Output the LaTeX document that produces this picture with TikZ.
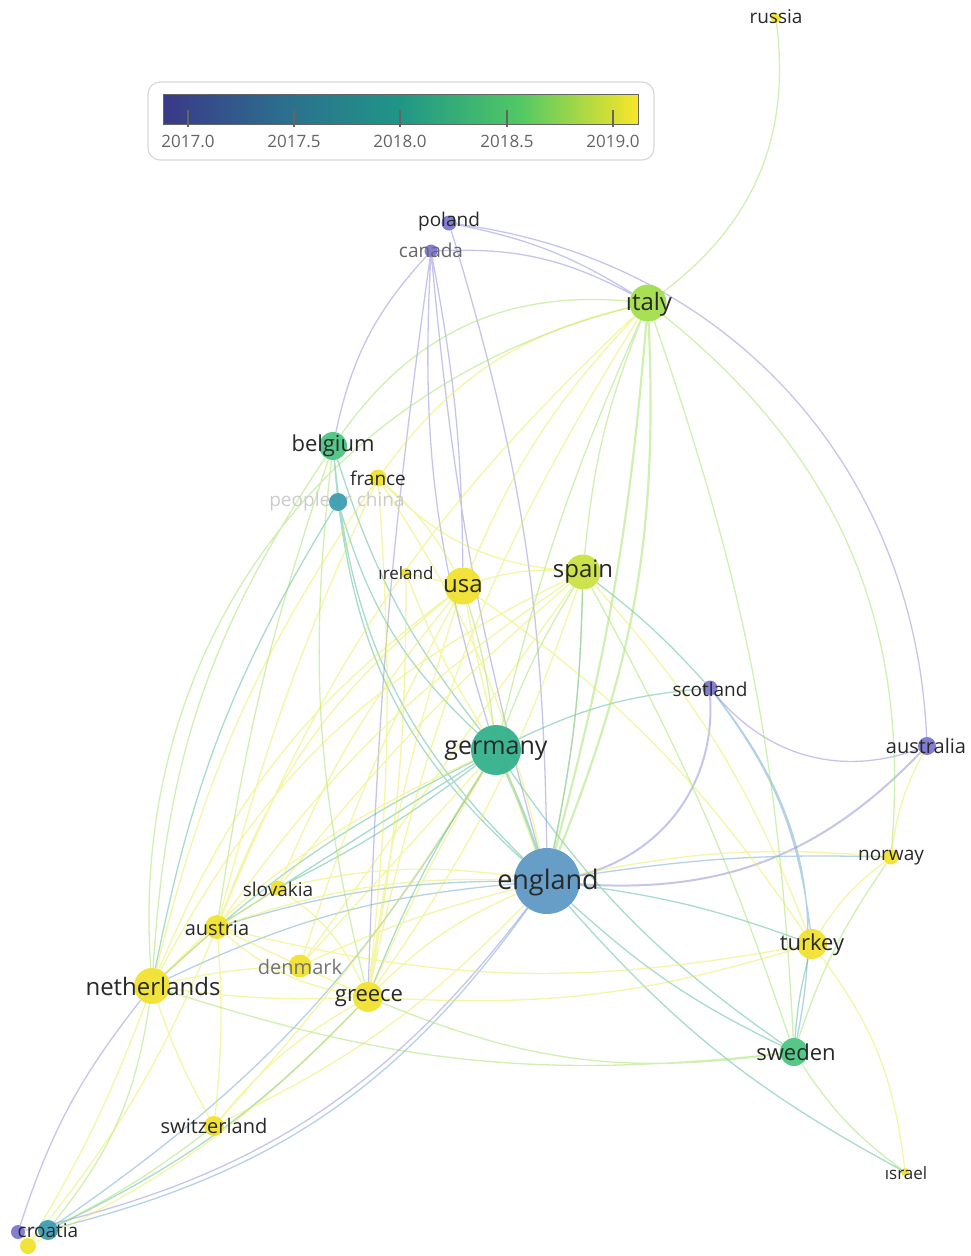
\documentclass[tikz,border=0pt]{standalone}
\usepackage{fontspec}
\setmainfont{Open Sans}
\usetikzlibrary{calc}

\definecolor{vir0}{RGB}{58,56,136}
\definecolor{vir1}{RGB}{44,110,142}
\definecolor{vir2}{RGB}{32,150,135}
\definecolor{vir3}{RGB}{80,200,100}
\definecolor{vir4}{RGB}{250,230,40}
\definecolor{cyel}{RGB}{240,225,40}
\definecolor{cspain}{RGB}{200,225,60}
\definecolor{citaly}{RGB}{160,220,70}
\definecolor{cgreen}{RGB}{70,195,125}
\definecolor{cgerm}{RGB}{45,175,135}
\definecolor{cteal}{RGB}{55,155,175}
\definecolor{cblue}{RGB}{90,150,195}
\definecolor{cpurp}{RGB}{120,115,205}
\definecolor{eY}{RGB}{232,235,80}
\definecolor{eG}{RGB}{160,225,100}
\definecolor{eT}{RGB}{80,185,150}
\definecolor{eB}{RGB}{105,165,205}
\definecolor{eP}{RGB}{140,140,215}
\definecolor{labtext}{RGB}{40,40,40}
\definecolor{boxgray}{RGB}{215,215,215}
\definecolor{tickgray}{RGB}{100,100,100}

\pgfdeclarehorizontalshading{viridis}{100bp}{color(0bp)=(vir0); color(25bp)=(vir0); color(37.5bp)=(vir1); color(50bp)=(vir2); color(62.5bp)=(vir3); color(75bp)=(vir4); color(100bp)=(vir4)}
\pgfdeclarelayer{edges}
\pgfsetlayers{edges,main}

\tikzset{
  vdot/.style={circle,inner sep=0pt,draw=none,fill opacity=.92,minimum size=#1},
  lbl/.style={inner sep=0pt,text=labtext,font=\fontsize{#1pt}{#1pt}\selectfont},
  edge/.style={line width=1.3pt,opacity=.5},
  yedge/.style={edge,draw=eY},
  gedge/.style={edge,draw=eG},
  tedge/.style={edge,draw=eT},
  bedge/.style={edge,draw=eB},
  pedge/.style={edge,draw=eP},
  yearlbl/.style={inner sep=0pt,text=tickgray,font=\fontsize{17pt}{17pt}\selectfont}
}

\begin{document}
\begin{tikzpicture}[x=1pt,y=-1pt]
  \useasboundingbox (0,0) rectangle (971,1256);
  % colour legend
  \draw[boxgray,line width=1.2pt,rounded corners=12pt] (148,82) rectangle (654,160);
  \shade[shading=viridis,draw=tickgray] (163,94) rectangle (638,124);
  \draw[tickgray,line width=1.2pt] (188,110) -- (188,127) node[below=8pt,yearlbl] (y1) {2017.0};
  \draw[tickgray,line width=1.2pt] (294,110) -- (294,127) node[below=8pt,yearlbl] (y2) {2017.5};
  \draw[tickgray,line width=1.2pt] (400,110) -- (400,127) node[below=8pt,yearlbl] (y3) {2018.0};
  \draw[tickgray,line width=1.2pt] (507,110) -- (507,127) node[below=8pt,yearlbl] (y4) {2018.5};
  \draw[tickgray,line width=1.2pt] (613,110) -- (613,127) node[below=8pt,yearlbl] (y5) {2019.0};

  % countries
  \node[vdot=10pt,fill=cyel] (russia) at (776,18) {};
  \node[vdot=15pt,fill=cpurp] (poland) at (449,223) {};
  \node[vdot=13pt,fill=cpurp] (canada) at (431,251) {};
  \node[vdot=37pt,fill=citaly] (italy) at (648,303) {};
  \node[vdot=28pt,fill=cgreen] (belgium) at (333,446) {};
  \node[vdot=17pt,fill=cyel] (france) at (378,478) {};
  \node[lbl=19,text=black!20] (china-t) at (337,502) {peoples r china};
  \node[vdot=18pt,fill=cteal] (china) at (338,502) {};
  \node[vdot=10pt,fill=cyel] (ireland) at (406,573) {};
  \node[vdot=37pt,fill=cyel] (usa) at (463,586) {};
  \node[vdot=35pt,fill=cspain] (spain) at (583,572) {};
  \node[vdot=15pt,fill=cpurp] (scotland) at (710,688) {};
  \node[vdot=50pt,fill=cgerm] (germany) at (496,750) {};
  \node[vdot=18pt,fill=cpurp] (australia) at (927,746) {};
  \node[vdot=66pt,fill=cblue] (england) at (547,881) {};
  \node[vdot=15pt,fill=cyel] (norway) at (891,857) {};
  \node[vdot=15pt,fill=cyel] (slovakia) at (278,888) {};
  \node[vdot=24pt,fill=cyel] (austria) at (217,927) {};
  \node[vdot=30pt,fill=cyel] (turkey) at (812,944) {};
  \node[vdot=23pt,fill=cyel] (denmark) at (300,966) {};
  \node[vdot=36pt,fill=cyel] (netherlands) at (152,986) {};
  \node[vdot=30pt,fill=cyel] (greece) at (368,997) {};
  \node[vdot=28pt,fill=cgreen] (sweden) at (794,1052) {};
  \node[vdot=20pt,fill=cyel] (switzerland) at (214,1126) {};
  \node[vdot=8pt,fill=cyel] (israel) at (905,1172) {};
  \node[vdot=14pt,fill=cpurp] (croatiaP) at (18,1232) {};
  \node[vdot=20pt,fill=cteal] (croatia) at (48,1230) {};
  \node[vdot=16pt,fill=cyel] (croatiaY) at (28,1246) {};

  \node[lbl=19] (russia-t) at (776,17) {russia};
  \node[lbl=19] (poland-t) at (449,222) {poland};
  \node[lbl=19,text=black!60] (canada-t) at (431,250) {canada};
  \node[lbl=24] (italy-t) at (649,304) {ıtaly};
  \node[lbl=22] (belgium-t) at (333,446) {belgium};
  \node[lbl=19] (france-t) at (378,478) {france};
  \node[lbl=17] (ireland-t) at (406,573) {ıreland};
  \node[lbl=24] (usa-t) at (463,586) {usa};
  \node[lbl=24] (spain-t) at (583,572) {spain};
  \node[lbl=19] (scotland-t) at (710,689) {scotland};
  \node[lbl=25] (germany-t) at (496,751) {germany};
  \node[lbl=20] (australia-t) at (926,746) {australia};
  \node[lbl=27] (england-t) at (548,882) {england};
  \node[lbl=19] (norway-t) at (891,858) {norway};
  \node[lbl=19] (slovakia-t) at (278,889) {slovakia};
  \node[lbl=20] (austria-t) at (217,928) {austria};
  \node[lbl=22] (turkey-t) at (812,945) {turkey};
  \node[lbl=20,text=black!55] (denmark-t) at (300,967) {denmark};
  \node[lbl=24] (netherlands-t) at (153,986) {netherlands};
  \node[lbl=22] (greece-t) at (369,998) {greece};
  \node[lbl=22] (sweden-t) at (796,1052) {sweden};
  \node[lbl=20] (switzerland-t) at (214,1126) {switzerland};
  \node[lbl=17] (israel-t) at (906,1173) {ısrael};
  \node[lbl=19] (croatia-t) at (48,1231) {croatia};

  \begin{pgfonlayer}{edges}
  % purple links
  \draw[pedge] (poland) to[bend left=40] (australia) (canada) to[bend left=15] (italy)
    (poland) to[bend left=10] (italy) (canada) to[bend right=5] (england)
    (canada) to[bend right=10] (germany) (canada) to[bend right=15] (belgium)
    (canada) to[bend right=3] (greece) (poland) to[bend left=8] (england)
    (canada) to[bend left=5] (usa) (scotland) to[bend right=35] (australia)
    (croatiaP) to[bend right=20] (england) (croatiaP) to[bend left=10] (netherlands);
  \draw[pedge,line width=2pt] (australia) to[bend left=25] (england) (scotland) to[bend left=40] (england);
  % blue and teal links
  \draw[bedge] (croatia) to[bend right=20] (england) (croatia) to[bend right=12] (germany)
    (scotland) to[bend left=25] (sweden) (scotland) to[bend left=15] (turkey)
    (england) to[bend left=5] (norway) (england) to[bend right=10] (netherlands)
    (england) to[bend right=8] (austria) (england) to[bend right=5] (spain);
  \draw[tedge] (china) to[bend right=20] (england) (belgium) to[bend right=20] (england)
    (china) to[bend right=15] (germany) (belgium) to[bend right=10] (germany)
    (belgium) to (china) (germany) to[bend right=10] (sweden)
    (england) to[bend right=8] (sweden) (england) to[bend left=6] (turkey)
    (croatia) to[bend right=10] (greece) (germany) to[bend right=5] (greece)
    (germany) to[bend right=8] (netherlands) (germany) to[bend left=10] (scotland)
    (spain) to[bend left=5] (scotland) (sweden) to[bend left=5] (turkey)
    (england) to[bend right=10] (israel) (china) to[bend right=10] (netherlands)
    (germany) to (austria) (germany) to[bend left=5] (slovakia);
  \draw[tedge,line width=2.5pt] (germany) to[bend left=3] (england);
  % green links
  \draw[gedge,line width=2.2pt] (italy) to[bend left=12] (england) (italy) to[bend left=5] (england);
  \draw[gedge] (italy) to[bend right=30] (belgium) (italy) to[bend right=40] (netherlands)
    (belgium) to[bend right=15] (netherlands) (italy) to[bend right=5] (germany)
    (italy) to[bend right=8] (spain) (italy) to[bend left=28] (norway)
    (sweden) to[bend left=15] (greece) (sweden) to[bend left=12] (netherlands)
    (sweden) to[bend right=10] (israel) (sweden) to[bend left=8] (norway)
    (usa) to[bend left=5] (germany) (spain) to[bend right=5] (germany)
    (spain) to[bend left=5] (england) (croatia) to[bend right=15] (netherlands)
    (croatia) to[bend right=5] (switzerland) (russia) to[bend left=30] (italy)
    (belgium) to[bend right=10] (greece) (belgium) to[bend right=5] (austria)
    (italy) to[bend left=8] (sweden) (spain) to[bend left=5] (sweden);
  % yellow links
  \draw[yedge] (italy) to[bend right=10] (greece) (italy) to[bend right=12] (austria)
    (italy) to[bend right=10] (usa) (italy) to[bend right=20] (france)
    (usa) to[bend left=10] (spain) (usa) to[bend right=10] (france)
    (usa) to (ireland) (usa) to[bend right=5] (england)
    (france) to[bend right=20] (spain) (france) to[bend right=10] (netherlands)
    (france) to[bend left=5] (greece) (ireland) to[bend left=5] (greece)
    (ireland) to[bend right=5] (germany) (netherlands) to[bend left=15] (usa)
    (netherlands) to[bend left=18] (spain) (netherlands) to[bend left=10] (germany)
    (netherlands) to (austria) (netherlands) to[bend right=5] (greece)
    (netherlands) to[bend left=5] (denmark) (netherlands) to[bend right=5] (switzerland)
    (austria) to (slovakia) (austria) to[bend right=15] (greece)
    (austria) to (denmark) (austria) to[bend left=5] (switzerland)
    (austria) to[bend left=15] (usa) (austria) to[bend left=10] (spain)
    (austria) to[bend left=10] (england) (slovakia) to[bend left=15] (greece)
    (slovakia) to[bend left=10] (england) (greece) to[bend left=5] (usa)
    (greece) to[bend right=8] (spain) (greece) to[bend left=3] (germany)
    (greece) to (denmark) (greece) to[bend right=10] (switzerland)
    (greece) to[bend left=10] (england) (greece) to[bend right=10] (turkey)
    (austria) to[bend right=12] (turkey) (turkey) to[bend right=10] (spain)
    (turkey) to[bend right=10] (usa) (turkey) to[bend left=10] (norway)
    (turkey) to[bend left=15] (israel) (norway) to[bend left=10] (australia)
    (norway) to[bend right=8] (england) (switzerland) to[bend right=10] (england)
    (switzerland) to[bend right=5] (germany) (croatiaY) to[bend right=8] (austria)
    (croatiaY) to[bend right=10] (greece) (croatiaY) to[bend right=5] (netherlands)
    (denmark) to[bend left=5] (england) (spain) to[bend right=10] (austria)
    (spain) to[bend right=5] (slovakia) (usa) to[bend right=8] (slovakia)
    (usa) to[bend right=5] (denmark) (spain) to (denmark)
    (germany) to (denmark) (france) to[bend right=5] (austria)
    (france) to[bend left=10] (england);
  \end{pgfonlayer}
\end{tikzpicture}
\end{document}
